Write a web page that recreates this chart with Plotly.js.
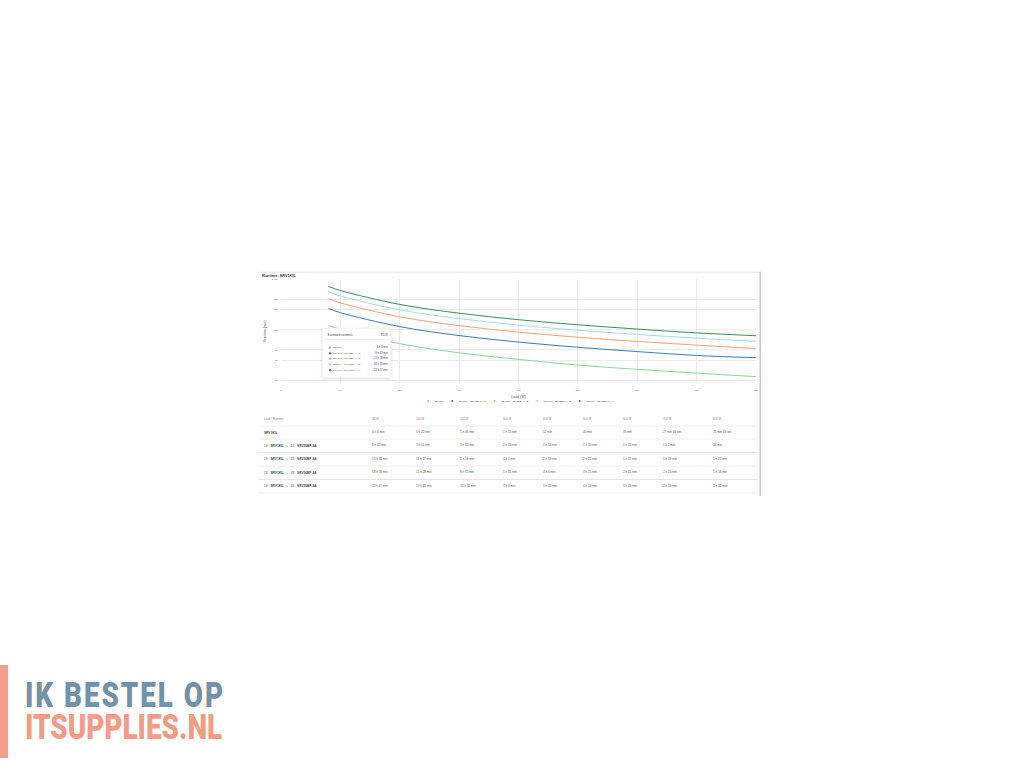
<!DOCTYPE html>
<html>
<head>
<meta charset="utf-8">
<script src="https://cdn.plot.ly/plotly-3.0.1.min.js"></script>
<style>
html,body{margin:0;padding:0;background:#fff;overflow:hidden;width:1024px;height:768px;}
#wrap{position:absolute;left:258px;top:270px;width:1512px;height:678px;transform:scale(0.333333);transform-origin:0 0;font-family:"Liberation Sans",Arial,sans-serif;}
#chart{position:absolute;left:0;top:0;width:1512px;height:420px;}
.hl{position:absolute;background:#e6e6e6;}
.cell{position:absolute;white-space:nowrap;line-height:1;transform:translateY(-50%);}
#tip{position:absolute;left:192px;top:174px;width:207px;height:150px;background:#fff;border:1.5px solid #e2e2e2;box-shadow:0 3px 10px rgba(0,0,0,0.13);box-sizing:border-box;}
#logo,.meas{font-family:Roboto,"Liberation Sans",sans-serif;font-weight:900;font-size:35px;white-space:pre;}
#logo{position:absolute;left:25px;top:680px;line-height:32px;transform-origin:0 0;color:#f29c88;}
#logo::first-line{color:#7491a8;}
.meas{position:absolute;left:0;top:0;visibility:hidden;}
.rl{word-spacing:5px;}
</style>
<style id="dyn"></style>
</head>
<body>
<div id="wrap">
  <div class="hl" style="left:0;top:5px;width:1506px;height:3px;background:#e4e4e4"></div>
  <div class="hl" style="left:1505px;top:5px;width:3px;height:673px;background:#a8a8a8"></div>
  <div id="chart"></div>
  <div id="tip"></div>
  <div id="table"></div>
</div>
<div style="position:absolute;left:0;top:665px;width:8px;height:93px;background:#f4a090"></div>
<div id="logo"></div>
<script>
// ---- data ----
var loads = [80, 100, 200, 300, 400, 500, 600, 700, 800];           // W
var xTicks = [0, 100, 200, 300, 400, 500, 600, 700, 800];
var yTicks = [20, 50, 80, 200, 500, 800, 2000];
var yTickText = ['20', '50', '80', '200', '500', '800', '2,000'];
var seriesNames = ['SRV1KIL', 'SRV1KIL + SRV36BP-9A (1)', 'SRV1KIL + SRV36BP-9A (2)', 'SRV1KIL + SRV36BP-9A (3)', 'SRV1KIL + SRV36BP-9A (4)'];
var rowLabels = ['<b>SRV1KIL</b>', '1X <b>SRV1KIL</b> + 1X <b>SRV36BP-9A</b>', '1X <b>SRV1KIL</b> + 2X <b>SRV36BP-9A</b>', '1X <b>SRV1KIL</b> + 3X <b>SRV36BP-9A</b>', '1X <b>SRV1KIL</b> + 4X <b>SRV36BP-9A</b>'];
var logoLines = ['IK BESTEL OP', 'ITSUPPLIES.NL'];
// runtimes in minutes
var rtBase = [244, 202, 106, 70, 52, 40, 33, 27.767, 23.717];
var rtPack1 = [523, 434, 230, 153, 114, 90, 74, 62, 56];
var rtPack2 = [816, 677, 358, 241, 179, 142, 117, 99, 85];
var rtPack3 = [1116, 928, 493, 331, 246, 195, 161, 136, 118];
var rtPack4 = [1427, 1185, 630, 423, 315, 250, 206, 173, 152];
var series = [rtBase, rtPack1, rtPack2, rtPack3, rtPack4];
var colors = ['#8ad49a', '#3d78ab', '#f4a27a', '#a9d6ee', '#3a8a55'];
var tipIndex = 0;

function fmt(m){
  var tot = Math.round(m*60), h = Math.floor(tot/3600), mi = Math.floor((tot%3600)/60), s = tot%60;
  if (h > 0) return h + ' h ' + mi + ' min';
  if (s > 0) return mi + ' min ' + s + ' sec';
  return mi + ' min';
}

// ---- chart ----
var traces = [];
series.forEach(function(v, i){
  traces.push({x: loads, y: v, type: 'scatter', mode: 'lines', line: {color: colors[i], width: 3, shape: 'spline', smoothing: 1}, showlegend: false, hoverinfo: 'skip'});
});
series.forEach(function(v, i){
  traces.push({x: [null], y: [null], type: 'scatter', mode: 'markers', marker: {color: colors[i], size: 6}, name: seriesNames[i], showlegend: true});
});
var W = 1512, H = 420, mt = 27, mb = 75;
var layout = {
  width: W, height: H,
  margin: {l: 69, r: 18, t: mt, b: mb, pad: 0},
  paper_bgcolor: 'rgba(0,0,0,0)', plot_bgcolor: '#ffffff',
  font: {family: '"Liberation Sans", Arial, sans-serif', color: '#666'},
  title: {text: 'Runtime: SRV1KIL', font: {size: 11.5, color: '#333', weight: 'bold'}, xref: 'container', yref: 'container', x: 12/W, xanchor: 'left', y: 1 - 16.5/H, yanchor: 'middle', pad: {t: 0, b: 0, l: 0, r: 0}},
  xaxis: {range: [0, 800], tickmode: 'array', tickvals: xTicks, ticktext: xTicks.map(String), showgrid: true, gridcolor: '#ebebeb', gridwidth: 3, zeroline: false, showline: false, ticks: '', ticklabelstandoff: 15, tickfont: {size: 7.5, color: '#666'},
    title: {text: 'Load (W)', font: {size: 11, color: '#555'}, standoff: 12}, automargin: false},
  yaxis: {type: 'log', range: [1.2428, 3.30103], tickmode: 'array', tickvals: yTicks, ticktext: yTickText, showgrid: true, gridcolor: '#ebebeb', gridwidth: 3, zeroline: false, showline: false, ticks: '', ticklabelstandoff: 8, tickfont: {size: 7.5, color: '#666'},
    title: {text: 'Runtime (min)', font: {size: 10.5, color: '#555'}, standoff: 13}, automargin: false},
  showlegend: true,
  legend: {orientation: 'h', x: 0.5, xanchor: 'center', y: -(399-345)/318, yanchor: 'middle', font: {size: 6.5, color: '#333'}, bgcolor: 'rgba(0,0,0,0)', itemwidth: 30, tracegroupgap: 0}
};
Plotly.newPlot('chart', traces, layout, {staticPlot: true, displayModeBar: false});

// ---- tooltip ----
var tip = document.getElementById('tip');
var th = '<div class="cell" style="left:16px;top:19px;font-size:8.5px;color:#444">Estimated runtime/s</div>' +
         '<div class="cell" style="right:9px;top:19px;font-size:8.5px;color:#444">' + loads[tipIndex] + ' W</div>' +
         '<div style="position:absolute;left:8px;right:8px;top:33px;height:1.5px;background:#eee"></div>';
series.forEach(function(v, i){
  var y = 57 + i*17;
  th += '<div style="position:absolute;left:20px;top:' + (y-3.5) + 'px;width:7px;height:7px;border-radius:50%;background:' + colors[i] + '"></div>';
  th += '<div class="cell" style="left:32px;top:' + y + 'px;font-size:6.5px;color:#555">' + seriesNames[i] + '</div>';
  th += '<div class="cell" style="right:9px;top:' + y + 'px;font-size:8px;color:#444">' + fmt(v[tipIndex]) + '</div>';
});
tip.innerHTML = th;

// ---- table ----
var colX = [18, 342, 474, 606, 735, 855, 975, 1095, 1215, 1365];
var headerY = 447, rowY = [487.5, 526.5, 567, 607.5, 648], lineY = [468, 507, 547.5, 588, 628.5, 669];
var t = '';
t += '<div class="cell" style="left:' + colX[0] + 'px;top:' + headerY + 'px;font-size:8.5px;color:#888">Load / Runtime</div>';
loads.forEach(function(l, j){
  t += '<div class="cell" style="left:' + colX[j+1] + 'px;top:' + headerY + 'px;font-size:8.5px;color:#888">' + l + ' W</div>';
});
lineY.forEach(function(y){
  t += '<div class="hl" style="left:0;top:' + (y-1.25) + 'px;width:1497px;height:2.5px;background:#e6e6e6"></div>';
});
series.forEach(function(v, i){
  t += '<div class="cell rl" style="left:' + colX[0] + 'px;top:' + rowY[i] + 'px;font-size:9.5px;color:#444">' + rowLabels[i] + '</div>';
  v.forEach(function(m, j){
    t += '<div class="cell" style="left:' + colX[j+1] + 'px;top:' + rowY[i] + 'px;font-size:9px;color:#555">' + fmt(m) + '</div>';
  });
});
document.getElementById('table').innerHTML = t;

// ---- logo (single text node, first line styled via ::first-line) ----
function measure(txt){
  var s = document.createElement('span'); s.className = 'meas'; s.textContent = txt;
  document.body.appendChild(s); var w = s.getBoundingClientRect().width; document.body.removeChild(s); return w;
}
var w1 = measure(logoLines[0]), w2 = measure(logoLines[1]);
var sx = 197 / w2;
var ls = (198 / sx - w1) / (logoLines[0].length - 1);
document.getElementById('dyn').textContent = '#logo::first-line{letter-spacing:' + ls.toFixed(2) + 'px;}';
var logo = document.getElementById('logo');
logo.textContent = logoLines.join('\n');
logo.style.transform = 'scaleX(' + sx + ')';
</script>
</body>
</html>
